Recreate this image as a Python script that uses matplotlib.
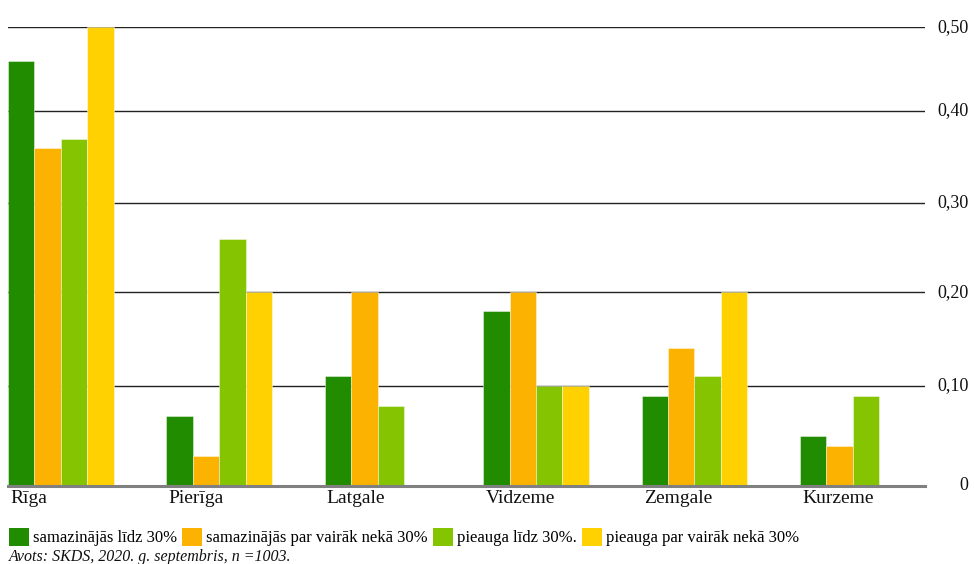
import numpy as np
import matplotlib
matplotlib.use("Agg")
import matplotlib.pyplot as plt
from matplotlib.patches import Patch
from matplotlib.transforms import blended_transform_factory

# regions and the four change groups (share of respondents)
regions = ["Rīga", "Pierīga", "Latgale", "Vidzeme", "Zemgale", "Kurzeme"]
series_names = ["samazinājās līdz 30%", "samazinājās par vairāk nekā 30%",
                "pieauga līdz 30%.", "pieauga par vairāk nekā 30%"]
decr_small = [0.46, 0.07, 0.11, 0.18, 0.09, 0.05]
decr_large = [0.36, 0.03, 0.20, 0.20, 0.14, 0.04]
incr_small = [0.37, 0.26, 0.08, 0.10, 0.11, 0.09]
incr_large = [0.50, 0.20, 0.00, 0.10, 0.20, 0.00]
tick_vals = [0, 0.1, 0.2, 0.3, 0.4, 0.5]
tick_labels = ["0", "0,10", "0,20", "0,30", "0,40", "0,50"]
# the original axis is drawn with uneven gridline spacing
tick_pos = [0, 100, 193.4, 282.7, 374.7, 458.4]

colors = ["#218C00", "#FBB200", "#84C400", "#FFD100"]

plt.rcParams["font.family"] = ["Liberation Serif", "DejaVu Serif"]

fig = plt.figure(figsize=(9.74, 5.64), dpi=100)
ax = fig.add_axes([8 / 974, 1 - 485.7 / 564, 917 / 974, 458.4 / 564])

fwd = lambda v: np.interp(v, tick_vals, tick_pos)
inv = lambda p: np.interp(p, tick_pos, tick_vals)
ax.set_yscale("function", functions=(fwd, inv))
ax.set_ylim(0, 0.5)

slot = 6.0
x = np.arange(len(regions)) * slot
for j, vals in enumerate([decr_small, decr_large, incr_small, incr_large]):
    ax.bar(x + j + 0.5, vals, width=1.0, color=colors[j],
           edgecolor=(1, 1, 1, 0.5), linewidth=0.6, zorder=2)

ax.set_xlim(0, 917 / 26.4)

for v in tick_vals[1:]:
    ax.axhline(v, color="#222222", lw=1.0, zorder=1)
ax.axhline(0, color="#808080", lw=2.2, zorder=3, clip_on=False)

for s in ax.spines.values():
    s.set_visible(False)
ax.set_xticks([])
ax.set_yticks([])

tr = blended_transform_factory(ax.transAxes, ax.transData)
for v, lab in zip(tick_vals, tick_labels):
    ax.text(1.0475, v, lab, transform=tr, ha="right", va="center",
            fontsize=13, color="#111111")

for xi, name in zip(x, regions):
    ax.annotate(name, xy=(xi, 0), xycoords="data", xytext=(1.5, -3),
                textcoords="offset points", ha="left", va="top",
                fontsize=14, color="#111111", annotation_clip=False)

handles = [Patch(facecolor=c, edgecolor="none") for c in colors]
fig.legend(handles, series_names, loc="center left", ncol=4,
           bbox_to_anchor=(0.009, 1 - 537 / 564), frameon=False, fontsize=12,
           handlelength=1.2, handleheight=1.3, handletextpad=0.25,
           columnspacing=0.3, borderaxespad=0, borderpad=0)

fig.text(9 / 974, 1 - 557 / 564, "Avots: SKDS, 2020. g. septembris, n =1003.",
         ha="left", va="center", fontsize=11.5, style="italic", color="#111111")

fig.savefig("out.png", dpi=100)
